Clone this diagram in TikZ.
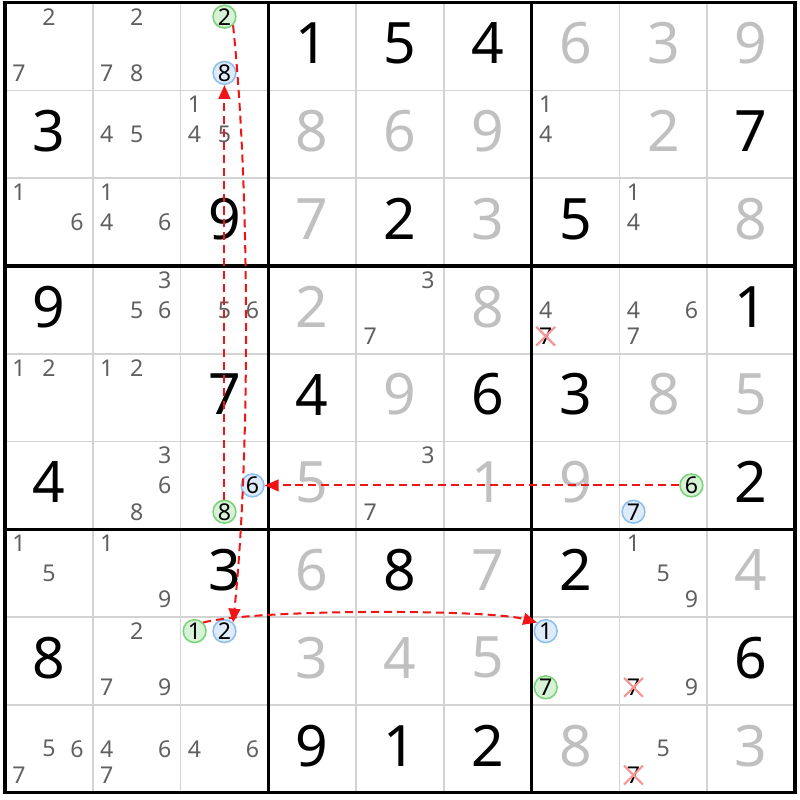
\documentclass[tikz,border=0pt]{standalone}
\usepackage{fontspec}
\setmainfont{Noto Sans}
\usepackage{xcolor}
\usepackage{tikz}
\usetikzlibrary{arrows.meta, shapes.misc}
\definecolor{solvedgray}{RGB}{192, 192, 192}
\definecolor{candgray}{RGB}{96, 96, 96}
\definecolor{gridgray}{RGB}{211, 211, 211}
\definecolor{ongreen}{RGB}{120, 210, 120}
\definecolor{offblue}{RGB}{140, 190, 240}
\definecolor{crosspink}{RGB}{245, 150, 150}
\definecolor{linkred}{RGB}{240, 20, 20}
\tikzstyle{given} = [font=\fontsize{18.5}{22}\selectfont, text=black, yshift=1pt]
\tikzstyle{solved} = [font=\fontsize{18.5}{22}\selectfont, text=solvedgray, yshift=1pt]
\tikzstyle{cand} = [font=\fontsize{7.5}{8}\selectfont, text=candgray, inner sep=0pt]
\tikzstyle{oncand} = [circle, draw=ongreen, fill=ongreen!30, line width=0.5pt, minimum size=0.26cm, inner sep=0pt, font=\fontsize{7.5}{8}\selectfont, text=black]
\tikzstyle{offcand} = [circle, draw=offblue, fill=offblue!30, line width=0.5pt, minimum size=0.26cm, inner sep=0pt, font=\fontsize{7.5}{8}\selectfont, text=black]
\tikzstyle{elim} = [cross out, draw=crosspink, line width=0.7pt, minimum size=0.19cm, inner sep=0pt, font=\fontsize{7.5}{8}\selectfont, text=black]
\tikzstyle{link} = [draw=linkred, line width=0.65pt, dash pattern=on 2.6pt off 1.6pt, -{Triangle[length=4.5pt, width=3.8pt]}]
\tikzstyle{thinline} = [gridgray, line width=0.55pt]
\tikzstyle{boxline} = [black, line width=1.1pt]

\begin{document}
\begin{tikzpicture}
    \useasboundingbox (-0.057, 0.03) rectangle (9.057, -9.084);

    % Grid
    \draw[thinline] (0, 0) grid (9, -9);
    \draw[boxline] (0, 0) grid[step=3] (9, -9);
    \draw[boxline] (0, 0) rectangle (9, -9);

    % Row 1
    \node[cand] (r1c1n2) at (0.5, -0.16) {2};
    \node[cand] (r1c1n7) at (0.16, -0.80) {7};
    \node[cand] (r1c2n2) at (1.5, -0.16) {2};
    \node[cand] (r1c2n7) at (1.16, -0.80) {7};
    \node[cand] (r1c2n8) at (1.5, -0.80) {8};
    \node[oncand] (r1c3n2) at (2.5, -0.16) {2};
    \node[offcand] (r1c3n8) at (2.5, -0.80) {8};
    \node[given] (r1c4) at (3.5, -0.5) {1};
    \node[given] (r1c5) at (4.5, -0.5) {5};
    \node[given] (r1c6) at (5.5, -0.5) {4};
    \node[solved] (r1c7) at (6.5, -0.5) {6};
    \node[solved] (r1c8) at (7.5, -0.5) {3};
    \node[solved] (r1c9) at (8.5, -0.5) {9};

    % Row 2
    \node[given] (r2c1) at (0.5, -1.5) {3};
    \node[cand] (r2c2n4) at (1.16, -1.5) {4};
    \node[cand] (r2c2n5) at (1.5, -1.5) {5};
    \node[cand] (r2c3n1) at (2.16, -1.16) {1};
    \node[cand] (r2c3n4) at (2.16, -1.5) {4};
    \node[cand] (r2c3n5) at (2.5, -1.5) {5};
    \node[solved] (r2c4) at (3.5, -1.5) {8};
    \node[solved] (r2c5) at (4.5, -1.5) {6};
    \node[solved] (r2c6) at (5.5, -1.5) {9};
    \node[cand] (r2c7n1) at (6.16, -1.16) {1};
    \node[cand] (r2c7n4) at (6.16, -1.5) {4};
    \node[solved] (r2c8) at (7.5, -1.5) {2};
    \node[given] (r2c9) at (8.5, -1.5) {7};

    % Row 3
    \node[cand] (r3c1n1) at (0.16, -2.16) {1};
    \node[cand] (r3c1n6) at (0.82, -2.5) {6};
    \node[cand] (r3c2n1) at (1.16, -2.16) {1};
    \node[cand] (r3c2n4) at (1.16, -2.5) {4};
    \node[cand] (r3c2n6) at (1.82, -2.5) {6};
    \node[given] (r3c3) at (2.5, -2.5) {9};
    \node[solved] (r3c4) at (3.5, -2.5) {7};
    \node[given] (r3c5) at (4.5, -2.5) {2};
    \node[solved] (r3c6) at (5.5, -2.5) {3};
    \node[given] (r3c7) at (6.5, -2.5) {5};
    \node[cand] (r3c8n1) at (7.16, -2.16) {1};
    \node[cand] (r3c8n4) at (7.16, -2.5) {4};
    \node[solved] (r3c9) at (8.5, -2.5) {8};

    % Row 4
    \node[given] (r4c1) at (0.5, -3.5) {9};
    \node[cand] (r4c2n3) at (1.82, -3.16) {3};
    \node[cand] (r4c2n5) at (1.5, -3.5) {5};
    \node[cand] (r4c2n6) at (1.82, -3.5) {6};
    \node[cand] (r4c3n5) at (2.5, -3.5) {5};
    \node[cand] (r4c3n6) at (2.82, -3.5) {6};
    \node[solved] (r4c4) at (3.5, -3.5) {2};
    \node[cand] (r4c5n3) at (4.82, -3.16) {3};
    \node[cand] (r4c5n7) at (4.16, -3.80) {7};
    \node[solved] (r4c6) at (5.5, -3.5) {8};
    \node[cand] (r4c7n4) at (6.16, -3.5) {4};
    \node[elim] (r4c7n7) at (6.16, -3.80) {7};
    \node[cand] (r4c8n4) at (7.16, -3.5) {4};
    \node[cand] (r4c8n6) at (7.82, -3.5) {6};
    \node[cand] (r4c8n7) at (7.16, -3.80) {7};
    \node[given] (r4c9) at (8.5, -3.5) {1};

    % Row 5
    \node[cand] (r5c1n1) at (0.16, -4.16) {1};
    \node[cand] (r5c1n2) at (0.5, -4.16) {2};
    \node[cand] (r5c2n1) at (1.16, -4.16) {1};
    \node[cand] (r5c2n2) at (1.5, -4.16) {2};
    \node[given] (r5c3) at (2.5, -4.5) {7};
    \node[given] (r5c4) at (3.5, -4.5) {4};
    \node[solved] (r5c5) at (4.5, -4.5) {9};
    \node[given] (r5c6) at (5.5, -4.5) {6};
    \node[given] (r5c7) at (6.5, -4.5) {3};
    \node[solved] (r5c8) at (7.5, -4.5) {8};
    \node[solved] (r5c9) at (8.5, -4.5) {5};

    % Row 6
    \node[given] (r6c1) at (0.5, -5.5) {4};
    \node[cand] (r6c2n3) at (1.82, -5.16) {3};
    \node[cand] (r6c2n6) at (1.82, -5.5) {6};
    \node[cand] (r6c2n8) at (1.5, -5.80) {8};
    \node[offcand] (r6c3n6) at (2.82, -5.5) {6};
    \node[oncand] (r6c3n8) at (2.5, -5.80) {8};
    \node[solved] (r6c4) at (3.5, -5.5) {5};
    \node[cand] (r6c5n3) at (4.82, -5.16) {3};
    \node[cand] (r6c5n7) at (4.16, -5.80) {7};
    \node[solved] (r6c6) at (5.5, -5.5) {1};
    \node[solved] (r6c7) at (6.5, -5.5) {9};
    \node[oncand] (r6c8n6) at (7.82, -5.5) {6};
    \node[offcand] (r6c8n7) at (7.16, -5.80) {7};
    \node[given] (r6c9) at (8.5, -5.5) {2};

    % Row 7
    \node[cand] (r7c1n1) at (0.16, -6.16) {1};
    \node[cand] (r7c1n5) at (0.5, -6.5) {5};
    \node[cand] (r7c2n1) at (1.16, -6.16) {1};
    \node[cand] (r7c2n9) at (1.82, -6.80) {9};
    \node[given] (r7c3) at (2.5, -6.5) {3};
    \node[solved] (r7c4) at (3.5, -6.5) {6};
    \node[given] (r7c5) at (4.5, -6.5) {8};
    \node[solved] (r7c6) at (5.5, -6.5) {7};
    \node[given] (r7c7) at (6.5, -6.5) {2};
    \node[cand] (r7c8n1) at (7.16, -6.16) {1};
    \node[cand] (r7c8n5) at (7.5, -6.5) {5};
    \node[cand] (r7c8n9) at (7.82, -6.80) {9};
    \node[solved] (r7c9) at (8.5, -6.5) {4};

    % Row 8
    \node[given] (r8c1) at (0.5, -7.5) {8};
    \node[cand] (r8c2n2) at (1.5, -7.16) {2};
    \node[cand] (r8c2n7) at (1.16, -7.80) {7};
    \node[cand] (r8c2n9) at (1.82, -7.80) {9};
    \node[oncand] (r8c3n1) at (2.16, -7.16) {1};
    \node[offcand] (r8c3n2) at (2.5, -7.16) {2};
    \node[solved] (r8c4) at (3.5, -7.5) {3};
    \node[solved] (r8c5) at (4.5, -7.5) {4};
    \node[solved] (r8c6) at (5.5, -7.5) {5};
    \node[offcand] (r8c7n1) at (6.16, -7.16) {1};
    \node[oncand] (r8c7n7) at (6.16, -7.80) {7};
    \node[elim] (r8c8n7) at (7.16, -7.80) {7};
    \node[cand] (r8c8n9) at (7.82, -7.80) {9};
    \node[given] (r8c9) at (8.5, -7.5) {6};

    % Row 9
    \node[cand] (r9c1n5) at (0.5, -8.5) {5};
    \node[cand] (r9c1n6) at (0.82, -8.5) {6};
    \node[cand] (r9c1n7) at (0.16, -8.80) {7};
    \node[cand] (r9c2n4) at (1.16, -8.5) {4};
    \node[cand] (r9c2n6) at (1.82, -8.5) {6};
    \node[cand] (r9c2n7) at (1.16, -8.80) {7};
    \node[cand] (r9c3n4) at (2.16, -8.5) {4};
    \node[cand] (r9c3n6) at (2.82, -8.5) {6};
    \node[given] (r9c4) at (3.5, -8.5) {9};
    \node[given] (r9c5) at (4.5, -8.5) {1};
    \node[given] (r9c6) at (5.5, -8.5) {2};
    \node[solved] (r9c7) at (6.5, -8.5) {8};
    \node[cand] (r9c8n5) at (7.5, -8.5) {5};
    \node[elim] (r9c8n7) at (7.16, -8.80) {7};
    \node[solved] (r9c9) at (8.5, -8.5) {3};

    % Chain links
    \draw[link] (r6c3n8) -- (r1c3n8);
    \draw[link] (r1c3n2.-45) to[out=-84, in=84, looseness=0.7] (r8c3n2.45);
    \draw[link] (r6c8n6) -- (r6c3n6);
    \draw[link] (r8c3n1.45) to[out=15, in=165, looseness=0.4] (r8c7n1.135);
\end{tikzpicture}
\end{document}
